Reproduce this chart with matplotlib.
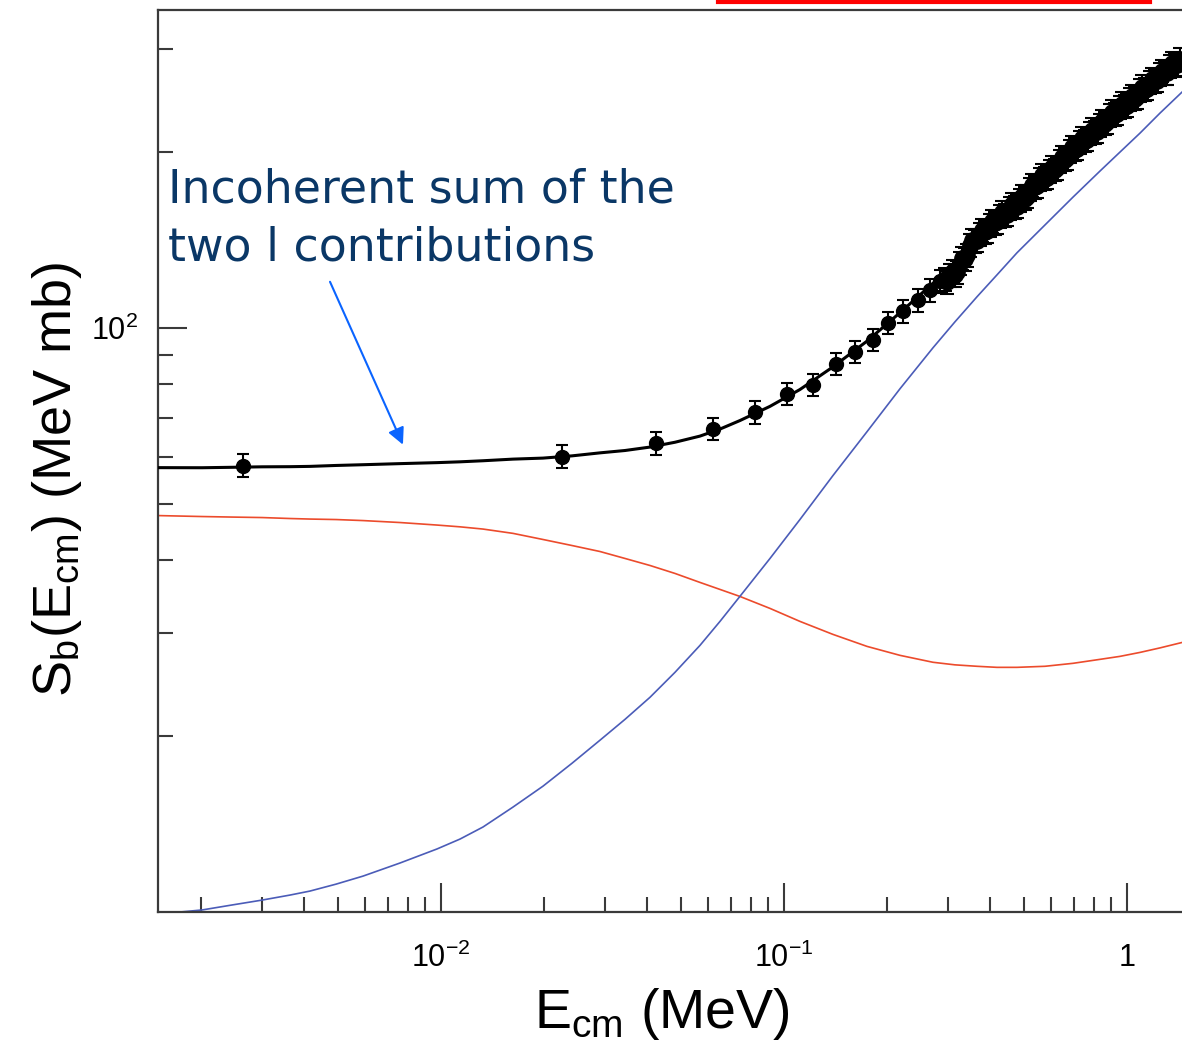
import numpy as np
import matplotlib
matplotlib.use('Agg')
import matplotlib.pyplot as plt
from matplotlib import font_manager
from matplotlib.lines import Line2D
from matplotlib.ticker import NullFormatter

# energies (MeV) where the two l contributions were read
e_curve = [0.001496, 0.001734, 0.002010, 0.002458, 0.003007, 0.003628, 0.004149,
           0.004942, 0.005925, 0.007595, 0.009735, 0.01136, 0.01326, 0.01621,
           0.01983, 0.02409, 0.02907, 0.03440, 0.04068, 0.04811, 0.05689, 0.06508,
           0.07438, 0.09104, 0.1113, 0.1389, 0.1746, 0.2179, 0.2719, 0.3152,
           0.3653, 0.4178, 0.4778, 0.5767, 0.6961, 0.8343, 0.9541, 1.0912,
           1.2481, 1.4467]
# red contribution (MeV mb)
s_red = [47.71, 47.62, 47.53, 47.43, 47.34, 47.16, 47.06, 46.97, 46.78, 46.42,
         45.96, 45.64, 45.24, 44.48, 43.42, 42.40, 41.41, 40.29, 39.19, 37.98,
         36.66, 35.66, 34.69, 33.09, 31.44, 29.87, 28.49, 27.50, 26.76, 26.49,
         26.34, 26.23, 26.23, 26.34, 26.65, 27.07, 27.39, 27.82, 28.32, 28.93]
# blue contribution (MeV mb)
s_blue = [9.922, 10.00, 10.08, 10.28, 10.48, 10.69, 10.86, 11.16, 11.52, 12.13,
          12.82, 13.33, 13.98, 15.12, 16.42, 17.97, 19.68, 21.37, 23.31, 25.72,
          28.60, 31.44, 34.69, 40.29, 46.97, 55.85, 66.40, 78.65, 92.43, 102.4,
          113.0, 123.2, 134.4, 150.0, 167.4, 185.5, 199.9, 215.4, 233.1, 253.2]

# low energy measured points
e_pts = [0.00265, 0.0225, 0.0424, 0.0621, 0.0823, 0.102, 0.1216, 0.1419, 0.161,
         0.182, 0.201, 0.222, 0.246, 0.267, 0.285]
s_pts = [58.1, 60.2, 63.4, 67.2, 71.8, 77.1, 79.9, 86.8, 91.0,
         95.4, 102.0, 106.9, 111.6, 116.1, 120.3]

# dense high energy points
e_band = [0.2947, 0.2997, 0.3048, 0.3100, 0.3152, 0.3205, 0.3259, 0.3314, 0.3371,
          0.3428, 0.3486, 0.3545, 0.3605, 0.3666, 0.3728, 0.3791, 0.3855, 0.3920,
          0.3987, 0.4054, 0.4123, 0.4193, 0.4264, 0.4336, 0.4409, 0.4484, 0.4560,
          0.4637, 0.4715, 0.4795, 0.4876, 0.4959, 0.5043, 0.5128, 0.5215, 0.5303,
          0.5393, 0.5484, 0.5577, 0.5671, 0.5767, 0.5865, 0.5964, 0.6065, 0.6168,
          0.6272, 0.6378, 0.6486, 0.6596, 0.6708, 0.6821, 0.6937, 0.7054, 0.7174,
          0.7295, 0.7418, 0.7544, 0.7672, 0.7801, 0.7934, 0.8068, 0.8204, 0.8343,
          0.8484, 0.8628, 0.8774, 0.8923, 0.9073, 0.9227, 0.9383, 0.9542, 0.9703,
          0.9868, 1.0035, 1.0205, 1.0377, 1.0553, 1.0732, 1.0913, 1.1098, 1.1286,
          1.1477, 1.1671, 1.1869, 1.2069, 1.2274, 1.2481, 1.2693, 1.2907, 1.3126,
          1.3348, 1.3574, 1.3803, 1.4037, 1.4274]
s_band = [121.3, 119.8, 122.9, 124.9, 123.0, 124.6, 128.8, 131.5, 131.0,
          133.2, 138.4, 141.3, 140.6, 141.0, 144.5, 147.1, 145.7, 146.3,
          149.9, 152.4, 150.9, 151.5, 155.3, 157.6, 155.8, 156.2, 160.2,
          162.6, 160.8, 161.3, 165.4, 168.1, 166.4, 167.7, 172.8, 175.6,
          174.0, 174.9, 179.6, 182.3, 180.1, 180.8, 185.3, 188.5, 186.5,
          187.7, 192.8, 196.1, 194.1, 195.3, 200.6, 203.9, 201.9, 202.7,
          207.7, 211.2, 209.1, 210.0, 215.3, 218.5, 216.0, 216.7, 222.1,
          225.9, 223.7, 224.9, 231.0, 234.5, 231.8, 232.6, 238.4, 242.0,
          239.2, 240.1, 246.0, 249.7, 246.9, 248.2, 254.9, 258.8, 255.8,
          256.6, 263.0, 267.0, 264.1, 264.8, 271.3, 275.5, 272.6, 273.2,
          280.1, 284.3, 281.3, 282.0, 288.9]
rel_err = 0.045

x_tick_vals = [0.01, 0.1, 1]
x_tick_labels = [r'$\mathdefault{10^{-2}}$', r'$\mathdefault{10^{-1}}$', '1']
y_tick_vals = [100]
y_tick_labels = [r'$\mathdefault{10^{2}}$']

names = {f.name for f in font_manager.fontManager.ttflist}
narrow = 'Liberation Sans Narrow' if 'Liberation Sans Narrow' in names else 'Liberation Sans'
plt.rcParams['font.family'] = [narrow, 'DejaVu Sans']
plt.rcParams['mathtext.fontset'] = 'custom'
plt.rcParams['mathtext.rm'] = narrow

W, H = 1182, 1045
fig = plt.figure(figsize=(W / 100, H / 100), dpi=100)
ax = fig.add_axes([158 / W, 133 / H, 1024 / W, 902 / H])
ax.set_xscale('log')
ax.set_yscale('log')

# black curve is the incoherent sum of the two contributions
s_fit = np.array(s_red) + np.array(s_blue)
ax.plot(e_curve, s_red, color='#ec4b2c', lw=1.2, zorder=2)
ax.plot(e_curve, s_blue, color='#4b5cb8', lw=1.2, zorder=2)
ax.plot(e_curve, s_fit, color='black', lw=2.2, zorder=3)

s_arr = np.array(s_pts)
ax.errorbar(e_pts, s_arr, yerr=rel_err * s_arr, fmt='o', color='black', ms=10,
            capsize=4, elinewidth=1.5, capthick=1.5, zorder=4)
s_arr = np.array(s_band)
ax.errorbar(e_band, s_arr, yerr=rel_err * s_arr, fmt='o', color='black', ms=11,
            capsize=5, elinewidth=1.5, capthick=1.5, zorder=4)

ax.set_xlim(0.001496, 1.447)
ax.set_ylim(10, 350)

ax.set_xticks(x_tick_vals)
ax.set_xticklabels(x_tick_labels)
ax.set_yticks(y_tick_vals)
ax.set_yticklabels(y_tick_labels)
ax.xaxis.set_minor_formatter(NullFormatter())
ax.yaxis.set_minor_formatter(NullFormatter())
ax.tick_params(which='major', direction='in', length=21, width=1.5, color='#3a3a3a',
               labelsize=22)
ax.tick_params(which='minor', direction='in', length=11, width=1.5, color='#3a3a3a')
ax.tick_params(axis='x', which='major', pad=22)
ax.tick_params(axis='y', which='major', pad=14)

for side in ['left', 'bottom', 'top']:
    ax.spines[side].set_color('#3a3a3a')
    ax.spines[side].set_linewidth(1.6)
ax.spines['right'].set_visible(False)

ax.set_xlabel(r'E$_{\mathregular{cm}}$ (MeV)', fontsize=40)
ax.xaxis.set_label_coords(0.492, -0.082)
ax.set_ylabel(r'S$_{\mathregular{b}}$(E$_{\mathregular{cm}}$) (MeV mb)', fontsize=39)
ax.yaxis.set_label_coords(-0.072, 0.48)

ax.text(0.0098, 0.7871, 'Incoherent sum of the', transform=ax.transAxes,
        fontsize=33, color='#0a3766', family='DejaVu Sans', va='baseline')
ax.text(0.0098, 0.7228, 'two l contributions', transform=ax.transAxes,
        fontsize=33, color='#0a3766', family='DejaVu Sans', va='baseline')
ax.annotate('', xy=(0.007746, 63.1), xytext=(0.004747, 119.9),
            arrowprops=dict(arrowstyle='-|>', color='#0a64ff', lw=1.5,
                            mutation_scale=25, shrinkA=0, shrinkB=0))

# red box edge peeking in at the top
fig.add_artist(Line2D([718 / W, 1150 / W], [1 - 2 / H, 1 - 2 / H], color='#ff0000',
                      lw=3, transform=fig.transFigure))

fig.savefig('out.png', dpi=100)
